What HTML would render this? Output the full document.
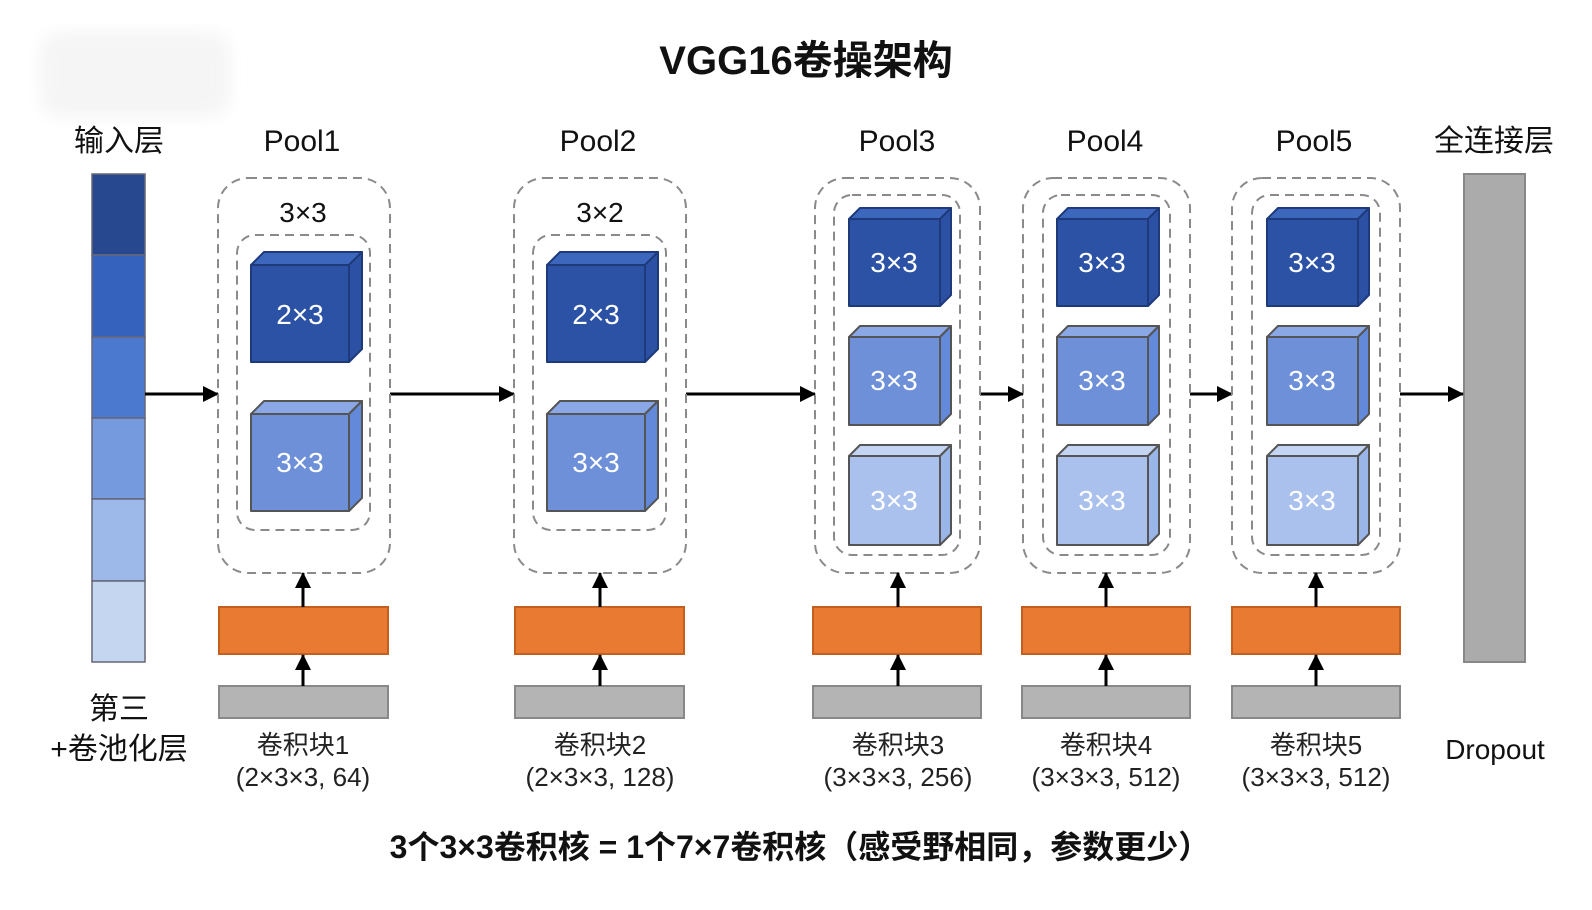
<!DOCTYPE html>
<html><head><meta charset="utf-8"><style>
html,body{margin:0;padding:0;background:#fff;}
svg{display:block;}
text{font-family:"Liberation Sans","Noto Sans CJK SC",sans-serif;}
</style></head><body>
<svg width="1592" height="910" viewBox="0 0 1592 910" xmlns="http://www.w3.org/2000/svg">
<defs>
<marker id="ahs" markerWidth="16" markerHeight="16" refX="15" refY="8" orient="auto" markerUnits="userSpaceOnUse"><path d="M0,0 L16,8 L0,16 z" fill="#000"/></marker>
<filter id="bl"><feGaussianBlur stdDeviation="8"/></filter>
</defs>
<rect x="40" y="32" width="190" height="85" fill="#f5f5f5" rx="20" filter="url(#bl)"/>
<text x="806" y="74" font-size="40" font-weight="bold" text-anchor="middle" fill="#111">VGG16卷操架构</text>

<g stroke="#667" stroke-width="1.5">
<rect x="92" y="174" width="53" height="81" fill="#27488f"/>
<rect x="92" y="255" width="53" height="82" fill="#3562bd"/>
<rect x="92" y="337" width="53" height="81" fill="#4b79cf"/>
<rect x="92" y="418" width="53" height="81" fill="#769ade"/>
<rect x="92" y="499" width="53" height="82" fill="#9db9ea"/>
<rect x="92" y="581" width="53" height="81" fill="#c5d6f1"/>
</g>
<g font-size="30" fill="#111" text-anchor="middle">
<text x="119" y="151">输入层</text>
<text x="119" y="719">第三</text>
<text x="119" y="759">+卷池化层</text>
<text x="302" y="151">Pool1</text>
<text x="598" y="151">Pool2</text>
<text x="897" y="151">Pool3</text>
<text x="1105" y="151">Pool4</text>
<text x="1314" y="151">Pool5</text>
<text x="1494" y="151">全连接层</text>
<text x="1495" y="759" font-size="28">Dropout</text>
</g>

<rect x="1464" y="174" width="61" height="488" fill="#ababab" stroke="#888" stroke-width="2"/>

<g stroke="#000" stroke-width="3" marker-end="url(#ahs)">
<line x1="145" y1="394" x2="218" y2="394"/>
<line x1="390" y1="394" x2="514" y2="394"/>
<line x1="686" y1="394" x2="815" y2="394"/>
<line x1="980" y1="394" x2="1023" y2="394"/>
<line x1="1190" y1="394" x2="1232" y2="394"/>
<line x1="1400" y1="394" x2="1463" y2="394"/>
</g>

<g fill="none" stroke="#8a8a8a" stroke-width="2" stroke-dasharray="9,6">
<rect x="218" y="178" width="172" height="395" rx="30"/>
<rect x="237" y="235" width="133" height="295" rx="18"/>
<rect x="514" y="178" width="172" height="395" rx="30"/>
<rect x="533" y="235" width="133" height="295" rx="18"/>
<rect x="815" y="178" width="165" height="395" rx="30"/>
<rect x="834" y="195" width="126" height="360" rx="18"/>
<rect x="1023" y="178" width="167" height="395" rx="30"/>
<rect x="1043" y="195" width="127" height="360" rx="18"/>
<rect x="1232" y="178" width="168" height="395" rx="30"/>
<rect x="1252" y="195" width="128" height="360" rx="18"/>
</g>
<g font-size="28" fill="#111" text-anchor="middle">
<text x="303" y="222">3×3</text>
<text x="600" y="222">3×2</text>
</g>

<g stroke="#555" stroke-width="2" stroke-linejoin="round">
<polygon points="251,265 264,252 362,252 349,265" fill="#3d66bd" stroke="#1e3a7a"/>
<polygon points="349,265 362,252 362,349 349,362" fill="#2b50a4" stroke="#1e3a7a"/>
<rect x="251" y="265" width="98" height="97" fill="#2c52a6" stroke="#1e3a7a"/>
<polygon points="251,414 264,401 362,401 349,414" fill="#8aa8e6"/>
<polygon points="349,414 362,401 362,498 349,511" fill="#6289da"/>
<rect x="251" y="414" width="98" height="97" fill="#6d90d9"/>
<polygon points="547,265 560,252 658,252 645,265" fill="#3d66bd" stroke="#1e3a7a"/>
<polygon points="645,265 658,252 658,349 645,362" fill="#2b50a4" stroke="#1e3a7a"/>
<rect x="547" y="265" width="98" height="97" fill="#2c52a6" stroke="#1e3a7a"/>
<polygon points="547,414 560,401 658,401 645,414" fill="#8aa8e6"/>
<polygon points="645,414 658,401 658,498 645,511" fill="#6289da"/>
<rect x="547" y="414" width="98" height="97" fill="#6d90d9"/>
<polygon points="849,219 860,208 951,208 940,219" fill="#3d66bd" stroke="#1e3a7a"/>
<polygon points="940,219 951,208 951,295 940,306" fill="#2b50a4" stroke="#1e3a7a"/>
<rect x="849" y="219" width="91" height="87" fill="#2c52a6" stroke="#1e3a7a"/>
<polygon points="849,337 860,326 951,326 940,337" fill="#8aa8e6"/>
<polygon points="940,337 951,326 951,414 940,425" fill="#6289da"/>
<rect x="849" y="337" width="91" height="88" fill="#6d90d9"/>
<polygon points="849,456 860,445 951,445 940,456" fill="#c3d5f3"/>
<polygon points="940,456 951,445 951,534 940,545" fill="#9ab5e8"/>
<rect x="849" y="456" width="91" height="89" fill="#a9c1ec"/>
<polygon points="1057,219 1068,208 1159,208 1148,219" fill="#3d66bd" stroke="#1e3a7a"/>
<polygon points="1148,219 1159,208 1159,295 1148,306" fill="#2b50a4" stroke="#1e3a7a"/>
<rect x="1057" y="219" width="91" height="87" fill="#2c52a6" stroke="#1e3a7a"/>
<polygon points="1057,337 1068,326 1159,326 1148,337" fill="#8aa8e6"/>
<polygon points="1148,337 1159,326 1159,414 1148,425" fill="#6289da"/>
<rect x="1057" y="337" width="91" height="88" fill="#6d90d9"/>
<polygon points="1057,456 1068,445 1159,445 1148,456" fill="#c3d5f3"/>
<polygon points="1148,456 1159,445 1159,534 1148,545" fill="#9ab5e8"/>
<rect x="1057" y="456" width="91" height="89" fill="#a9c1ec"/>
<polygon points="1267,219 1278,208 1369,208 1358,219" fill="#3d66bd" stroke="#1e3a7a"/>
<polygon points="1358,219 1369,208 1369,295 1358,306" fill="#2b50a4" stroke="#1e3a7a"/>
<rect x="1267" y="219" width="91" height="87" fill="#2c52a6" stroke="#1e3a7a"/>
<polygon points="1267,337 1278,326 1369,326 1358,337" fill="#8aa8e6"/>
<polygon points="1358,337 1369,326 1369,414 1358,425" fill="#6289da"/>
<rect x="1267" y="337" width="91" height="88" fill="#6d90d9"/>
<polygon points="1267,456 1278,445 1369,445 1358,456" fill="#c3d5f3"/>
<polygon points="1358,456 1369,445 1369,534 1358,545" fill="#9ab5e8"/>
<rect x="1267" y="456" width="91" height="89" fill="#a9c1ec"/>
</g>
<g font-size="28" fill="#fff" text-anchor="middle">
<text x="300" y="324">2×3</text>
<text x="300" y="472">3×3</text>
<text x="596" y="324">2×3</text>
<text x="596" y="472">3×3</text>
<text x="894" y="272">3×3</text><text x="894" y="390">3×3</text><text x="894" y="510">3×3</text>
<text x="1102" y="272">3×3</text><text x="1102" y="390">3×3</text><text x="1102" y="510">3×3</text>
<text x="1312" y="272">3×3</text><text x="1312" y="390">3×3</text><text x="1312" y="510">3×3</text>
</g>

<g stroke-width="2">
<rect x="219" y="607" width="169" height="47" fill="#e97a32" stroke="#c35f20"/>
<rect x="515" y="607" width="169" height="47" fill="#e97a32" stroke="#c35f20"/>
<rect x="813" y="607" width="168" height="47" fill="#e97a32" stroke="#c35f20"/>
<rect x="1022" y="607" width="168" height="47" fill="#e97a32" stroke="#c35f20"/>
<rect x="1232" y="607" width="168" height="47" fill="#e97a32" stroke="#c35f20"/>
<rect x="219" y="686" width="169" height="32" fill="#b4b4b4" stroke="#888"/>
<rect x="515" y="686" width="169" height="32" fill="#b4b4b4" stroke="#888"/>
<rect x="813" y="686" width="168" height="32" fill="#b4b4b4" stroke="#888"/>
<rect x="1022" y="686" width="168" height="32" fill="#b4b4b4" stroke="#888"/>
<rect x="1232" y="686" width="168" height="32" fill="#b4b4b4" stroke="#888"/>
</g>
<g stroke="#000" stroke-width="3" marker-end="url(#ahs)">
<line x1="303" y1="607" x2="303" y2="573"/><line x1="303" y1="686" x2="303" y2="655"/>
<line x1="600" y1="607" x2="600" y2="573"/><line x1="600" y1="686" x2="600" y2="655"/>
<line x1="898" y1="607" x2="898" y2="573"/><line x1="898" y1="686" x2="898" y2="655"/>
<line x1="1106" y1="607" x2="1106" y2="573"/><line x1="1106" y1="686" x2="1106" y2="655"/>
<line x1="1316" y1="607" x2="1316" y2="573"/><line x1="1316" y1="686" x2="1316" y2="655"/>
</g>
<g font-size="26" fill="#222" text-anchor="middle">
<text x="303" y="754">卷积块1</text><text x="303" y="786">(2×3×3, 64)</text>
<text x="600" y="754">卷积块2</text><text x="600" y="786">(2×3×3, 128)</text>
<text x="898" y="754">卷积块3</text><text x="898" y="786">(3×3×3, 256)</text>
<text x="1106" y="754">卷积块4</text><text x="1106" y="786">(3×3×3, 512)</text>
<text x="1316" y="754">卷积块5</text><text x="1316" y="786">(3×3×3, 512)</text>
</g>
<text x="800" y="858" font-size="32" font-weight="bold" text-anchor="middle" fill="#111">3个3×3卷积核 = 1个7×7卷积核（感受野相同，参数更少）</text>
</svg>
</body></html>
